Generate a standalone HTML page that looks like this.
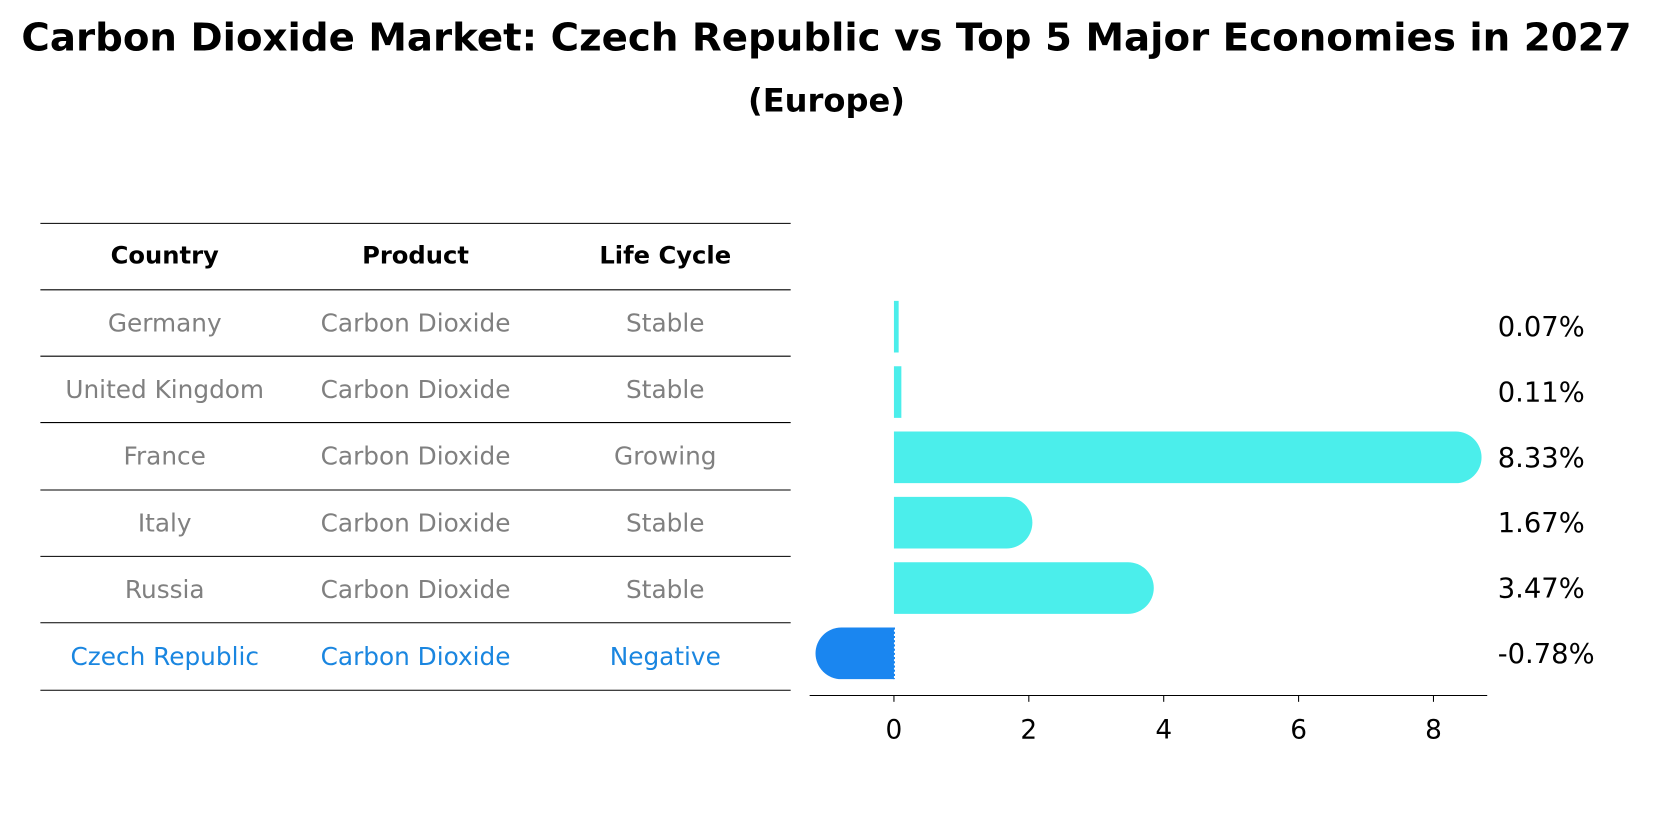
<!DOCTYPE html>
<html><head><meta charset="utf-8"><style>
body{margin:0;background:#fff;overflow:hidden;}
svg{display:block;font-family:"DejaVu Sans","Liberation Sans",sans-serif;}
</style></head><body>
<svg id="chart" width="1653" height="823" viewBox="0 0 1568 781">
<text x="784" y="48" text-anchor="middle" font-size="36.5" font-weight="bold" textLength="1528" lengthAdjust="spacingAndGlyphs">Carbon Dioxide Market: Czech Republic vs Top 5 Major Economies in 2027</text>
<text x="784" y="106" text-anchor="middle" font-size="30.5" font-weight="bold">(Europe)</text>
<g id="table"></g>
<g id="bars"></g>
</svg>
<script>
const countries = ["Germany","United Kingdom","France","Italy","Russia","Czech Republic"];
const products = ["Carbon Dioxide","Carbon Dioxide","Carbon Dioxide","Carbon Dioxide","Carbon Dioxide","Carbon Dioxide"];
const lifecycles = ["Stable","Stable","Growing","Stable","Stable","Negative"];
const values = [0.07,0.11,8.33,1.67,3.47,-0.78];
const valueLabels = ["0.07%","0.11%","8.33%","1.67%","3.47%","-0.78%"];
const ticks = [0,2,4,6,8];

const NS="http://www.w3.org/2000/svg";
function mk(tag,attrs,parent,text){const e=document.createElementNS(NS,tag);for(const k in attrs)e.setAttribute(k,attrs[k]);if(text!==undefined)e.textContent=text;parent.appendChild(e);return e;}
const tbl=document.getElementById('table');
const lineYs=[212,275,338,401,465,528,591,655];
const colX=[156,394,631];
lineYs.forEach((y,i)=>{const l=mk('line',{x1:38,x2:750,y1:y,y2:y,stroke:'#000','stroke-width':1},tbl);

});
["Country","Product","Life Cycle"].forEach((h,j)=>{const t=mk('text',{x:colX[j],y:250,'text-anchor':'middle','font-size':23,'font-weight':'bold'},tbl,h);

});
const rowY=i=>(lineYs[i+1]+lineYs[i+2])/2+8;
countries.forEach((c,i)=>{const col=i===countries.length-1?'#1a86e0':'#808080';
[c,products[i],lifecycles[i]].forEach((s,j)=>{const t=mk('text',{x:colX[j],y:rowY(i),'text-anchor':'middle','font-size':23.5,fill:col},tbl,s);

});});

const g=document.getElementById('bars');
const x0=848, pxPer=64;
const xs=v=>x0+v*pxPer;
const barY=i=>310+i*62;
const bh=49;
const ax=mk('line',{x1:768,x2:1411,y1:660,y2:660,stroke:'#000','stroke-width':1},g);


ticks.forEach(t=>{const l=mk('line',{x1:xs(t),x2:xs(t),y1:660,y2:666,stroke:'#000','stroke-width':1},g);


const tx=mk('text',{x:xs(t),y:701,'text-anchor':'middle','font-size':25},g,String(t));

});
values.forEach((v,i)=>{const neg=v<0;const col=neg?'#1a86f0':'#4beeeb';
const cy=barY(i), top=cy-bh/2;const xe=xs(v);
let d;const w=Math.abs(xe-x0);
if(w<10){d=`M${Math.min(x0,xe)},${top}h${Math.max(w,3)}v${bh}h${-Math.max(w,3)}z`;}
else{const r=bh/2;
d=`M${x0},${top}L${xe},${top}A${r},${r} 0 0 ${neg?0:1} ${xe},${top+bh}L${x0},${top+bh}Z`;}
const p=mk('path',{d:d,fill:col},g);


if(neg){const s=mk('line',{x1:x0,x2:x0,y1:top,y2:top+bh,stroke:'#1a86f0','stroke-width':2,'stroke-dasharray':'2,2'},g);

}
const lt=mk('text',{x:1421,y:cy+9,'font-size':26},g,valueLabels[i]);

});
</script>
</body></html>
